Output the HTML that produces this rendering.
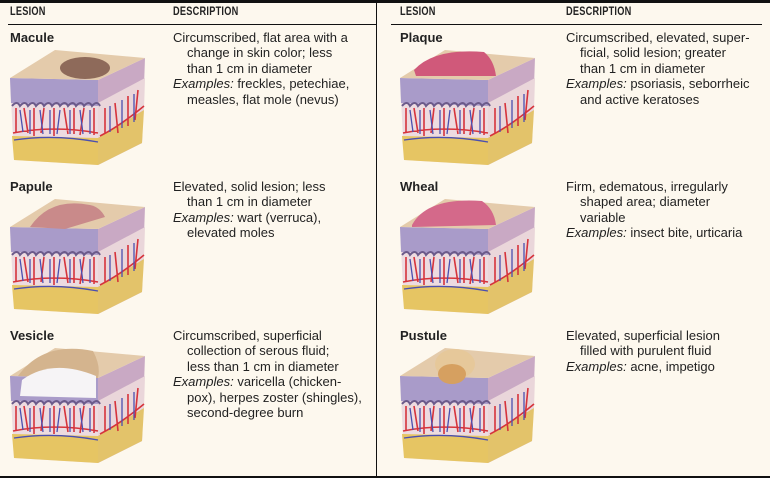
<!DOCTYPE html><html><head><style>
body{margin:0;width:770px;height:478px;background:#fdf8ee;position:relative;overflow:hidden;font-family:"Liberation Sans",sans-serif;color:#222}
.a{position:absolute}
.h{font-size:11.5px;font-weight:bold;transform:scaleX(.8);transform-origin:left;letter-spacing:.3px}
.t{font-size:13px;font-weight:bold}
.d{font-size:13px;line-height:15.4px;white-space:nowrap}
.d span{display:block;padding-left:14px}
svg.c{position:absolute;width:140px;height:122px}
</style></head><body>
<div class="a" style="left:0;top:0;width:770px;height:3px;background:#111"></div>
<div class="a" style="left:0;top:476px;width:770px;height:2px;background:#111"></div>
<div class="a" style="left:376px;top:0;width:1px;height:478px;background:#111"></div>
<div class="a" style="left:8px;top:24px;width:368px;height:1px;background:#111"></div>
<div class="a" style="left:391px;top:24px;width:371px;height:1px;background:#111"></div>
<div class="a h" style="left:10px;top:6px">LESION</div>
<div class="a h" style="left:173px;top:6px">DESCRIPTION</div>
<div class="a h" style="left:400px;top:6px">LESION</div>
<div class="a h" style="left:566px;top:6px">DESCRIPTION</div>

<svg width="0" height="0" style="position:absolute"><defs>
<g id="cube">
<polygon points="88,32 135,10 132,95 88,117" fill="#c9a9c4"/>
<polygon points="88,55 135,30 134,62 88,90" fill="#ead6da"/>
<polygon points="88,90 134,62 132,95 88,117" fill="#e3c36a"/>
<polygon points="0,30 88,32 88,117 4,112" fill="#eddbe0"/>
<polygon points="0,30 88,32 88,58 1,55" fill="#a99bc9"/>
<polygon points="2,88 88,90 88,117 4,112" fill="#e6c563"/>
<path d="M2,58 q5,-6 8,0 q5,-6 8,0 q5,-6 8,0 q5,-6 8,0 q5,-6 8,0 q5,-6 8,0 q5,-6 8,0 q5,-6 8,0 q5,-6 8,0 q5,-6 8,0 q5,-6 8,0" fill="none" stroke="#6b5a8a" stroke-width="2"/>
<path d="M6,60 v25 M14,60 l4,25 M24,60 v28 M34,60 l-3,25 M44,60 v28 M54,60 l4,26 M64,60 v26 M74,60 l-4,27 M84,60 v27 M3,85 q40,-8 85,0 M95,60 v25 M105,55 l3,30 M118,48 v30 M128,42 l-3,30 M90,88 q20,-10 44,-30" fill="none" stroke="#d6333b" stroke-width="1.6"/>
<path d="M10,62 l3,22 M20,62 v24 M30,62 l3,24 M40,62 v24 M50,62 l-3,24 M60,62 v24 M70,62 l3,24 M80,62 v24 M4,92 q40,-6 84,2 M100,58 v26 M112,52 v28 M124,46 v28" fill="none" stroke="#4a4fb0" stroke-width="1.3"/>
<polygon points="0,30 88,32 135,10 45,2" fill="#e4cbab"/>
</g></defs></svg>

<div class="a t" style="left:10px;top:30px">Macule</div>
<svg class="c" style="left:10px;top:48px" viewBox="0 0 140 122"><use href="#cube"/><ellipse cx="75" cy="20" rx="25" ry="11" fill="#8e6a5a"/></svg>
<div class="a d" style="left:173px;top:30px">Circumscribed, flat area with a<span>change in skin color; less</span><span>than 1 cm in diameter</span><i>Examples:</i> freckles, petechiae,<span>measles, flat mole (nevus)</span></div>

<div class="a t" style="left:10px;top:179px">Papule</div>
<svg class="c" style="left:10px;top:197px" viewBox="0 0 140 122"><use href="#cube"/><path d="M20,30 q20,-30 60,-22 q10,2 15,12 l-40,12 z" fill="#c98a8a"/></svg>
<div class="a d" style="left:173px;top:179px">Elevated, solid lesion; less<span>than 1 cm in diameter</span><i>Examples:</i> wart (verruca),<span>elevated moles</span></div>

<div class="a t" style="left:10px;top:328px">Vesicle</div>
<svg class="c" style="left:10px;top:346px" viewBox="0 0 140 122"><use href="#cube"/><path d="M8,30 q25,-35 75,-25 q8,15 5,27 z" fill="#d4b48e"/><path d="M12,34 q30,-22 74,-4 v22 l-76,-2 z" fill="#f6f4f6"/></svg>
<div class="a d" style="left:173px;top:328px">Circumscribed, superficial<span>collection of serous fluid;</span><span>less than 1 cm in diameter</span><i>Examples:</i> varicella (chicken-<span>pox), herpes zoster (shingles),</span><span>second-degree burn</span></div>

<div class="a t" style="left:400px;top:30px">Plaque</div>
<svg class="c" style="left:400px;top:48px" viewBox="0 0 140 122"><use href="#cube"/><path d="M14,22 q20,-22 70,-18 q10,8 12,24 l-80,0 z" fill="#d0597a"/></svg>
<div class="a d" style="left:566px;top:30px">Circumscribed, elevated, super-<span>ficial, solid lesion; greater</span><span>than 1 cm in diameter</span><i>Examples:</i> psoriasis, seborrheic<span>and active keratoses</span></div>

<div class="a t" style="left:400px;top:179px">Wheal</div>
<svg class="c" style="left:400px;top:197px" viewBox="0 0 140 122"><use href="#cube"/><path d="M12,28 q15,-28 70,-24 q12,8 14,24 l-84,2 z" fill="#d4698a"/></svg>
<div class="a d" style="left:566px;top:179px">Firm, edematous, irregularly<span>shaped area; diameter</span><span>variable</span><i>Examples:</i> insect bite, urticaria</div>

<div class="a t" style="left:400px;top:328px">Pustule</div>
<svg class="c" style="left:400px;top:346px" viewBox="0 0 140 122"><use href="#cube"/><ellipse cx="55" cy="18" rx="20" ry="15" fill="#e6c89a"/><ellipse cx="52" cy="28" rx="14" ry="10" fill="#d6a060"/></svg>
<div class="a d" style="left:566px;top:328px">Elevated, superficial lesion<span>filled with purulent fluid</span><i>Examples:</i> acne, impetigo</div>
</body></html>
